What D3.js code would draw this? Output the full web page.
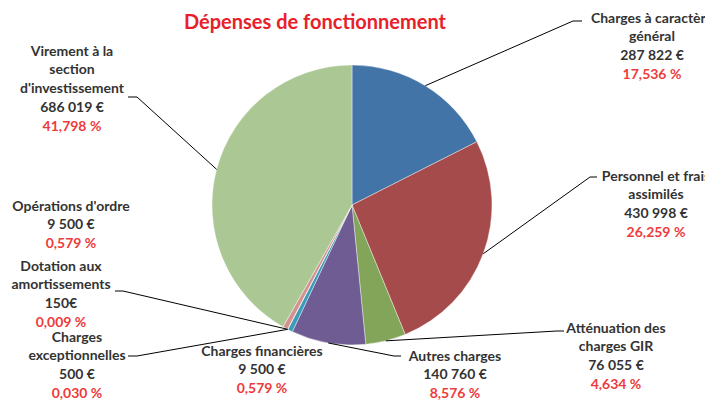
<!DOCTYPE html>
<html>
<head>
<meta charset="utf-8">
<script src="https://cdn.jsdelivr.net/npm/d3@7"></script>
<style>
  body { margin: 0; background: #fff; }
  svg { display: block; font-family: Lato, "Open Sans", sans-serif; font-weight: bold; }
</style>
</head>
<body>
<div id="chart"></div>
<script>
// data
var categories = [
  "Charges à caractère\ngénéral",
  "Personnel et frais\nassimilés",
  "Atténuation des\ncharges GIR",
  "Autres charges",
  "Charges financières",
  "Charges\nexceptionnelles",
  "Dotation aux\namortissements",
  "Opérations d'ordre",
  "Virement à la\nsection\nd'investissement"
];
var values = [287822, 430998, 76055, 140760, 9500, 500, 150, 9500, 686019];
var valueLabels = ["287 822 €", "430 998 €", "76 055 €", "140 760 €", "9 500 €", "500 €", "150€", "9 500 €", "686 019 €"];
var percentLabels = ["17,536 %", "26,259 %", "4,634 %", "8,576 %", "0,579 %", "0,030 %", "0,009 %", "0,579 %", "41,798 %"];
var colors = ["#4374a7", "#a64b4b", "#82a55a", "#6f5c93", "#3c9dbb", "#e8925a", "#c9a3a3", "#d4928f", "#abc794"];

var w = 705, h = 400;
var cx = 352, cy = 205, r = 140;

// label placement: centre x, first line centre y, leader elbow (null = no leader)
var labelPos = [
  {x: 652, y: 17, elbow: [573, 21], end: 582},
  {x: 656, y: 175, elbow: [590, 177], end: 597},
  {x: 616, y: 327, elbow: [557, 331], end: 564},
  {x: 455, y: 355, elbow: [394, 356], end: 401},
  {x: 262, y: 350, elbow: null},
  {x: 77, y: 336, elbow: [137, 356], end: 128},
  {x: 61, y: 265, elbow: [123, 291], end: 115},
  {x: 71, y: 205, elbow: null},
  {x: 72, y: 50, elbow: [137, 97], end: 128}
];
var lineH = 18.9;

var svg = d3.select("#chart").append("svg")
  .attr("width", w)
  .attr("height", h);

svg.append("text")
  .attr("x", 315).attr("y", 21)
  .attr("text-anchor", "middle")
  .attr("dominant-baseline", "central")
  .attr("fill", "#e8202a")
  .style("font-size", "20px")
  .text("Dépenses de fonctionnement");

var pie = d3.pie().sort(null).value(function(d) { return d; });
var arcs = pie(values);
var arc = d3.arc().innerRadius(0).outerRadius(r);

var g = svg.append("g").attr("transform", "translate(" + cx + "," + cy + ")");

g.selectAll("path")
  .data(arcs)
  .enter()
  .append("path")
  .attr("d", arc)
  .attr("fill", function(d, i) { return colors[i]; })
  .attr("stroke", "#fff")
  .attr("stroke-width", 0.4);

// leader lines
svg.selectAll("polyline")
  .data(arcs.filter(function(d, i) { return labelPos[i].elbow; }))
  .enter()
  .append("polyline")
  .attr("fill", "none")
  .attr("stroke", "#000")
  .attr("stroke-width", 1)
  .attr("points", function(d) {
    var p = labelPos[d.index];
    var a = (d.startAngle + d.endAngle) / 2;
    var px = cx + r * Math.sin(a), py = cy - r * Math.cos(a);
    return [[px, py], p.elbow, [p.end, p.elbow[1]]].join(" ");
  });

// labels
arcs.forEach(function(d, i) {
  var p = labelPos[i];
  var lines = categories[i].split("\n").concat([valueLabels[i]]);
  var t = svg.append("text")
    .attr("text-anchor", "middle")
    .style("font-size", "14px");
  lines.forEach(function(s, k) {
    t.append("tspan")
      .attr("x", p.x)
      .attr("y", p.y + k * lineH)
      .attr("dominant-baseline", "central")
      .attr("fill", "#333")
      .text(s);
  });
  t.append("tspan")
    .attr("x", p.x)
    .attr("y", p.y + lines.length * lineH)
    .attr("dominant-baseline", "central")
    .attr("fill", "#ee3b3b")
    .text(percentLabels[i]);
});
</script>
</body>
</html>
